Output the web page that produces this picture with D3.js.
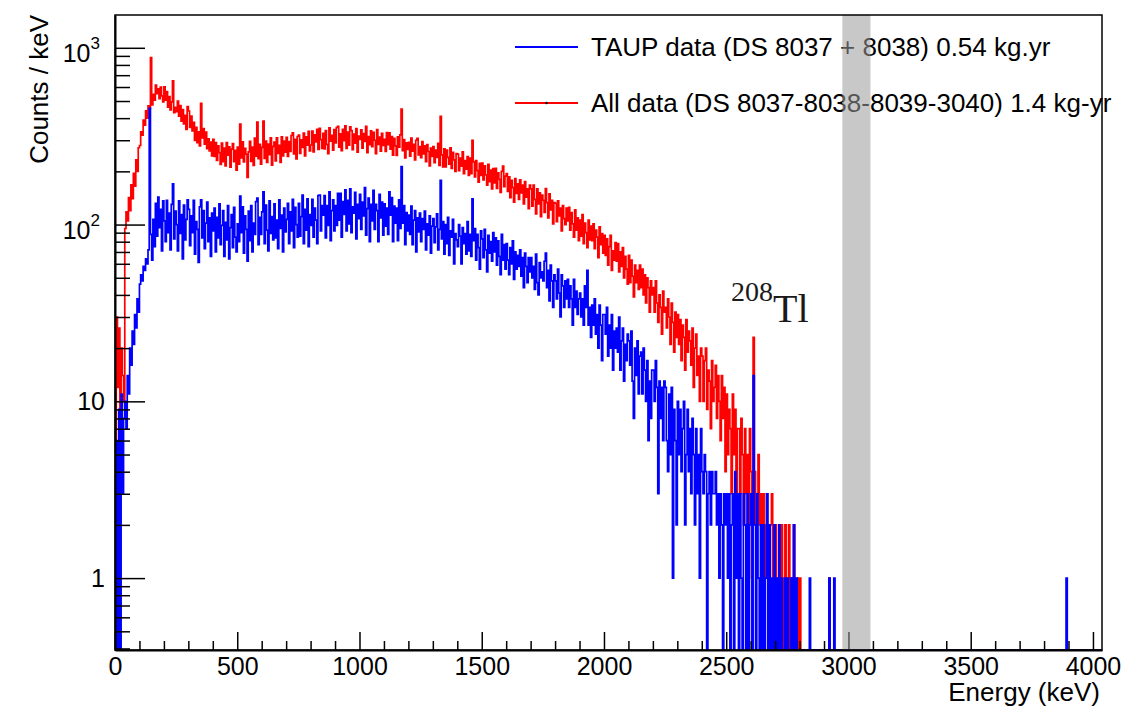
<!DOCTYPE html>
<html>
<head>
<meta charset="utf-8">
<script src="https://cdn.jsdelivr.net/npm/d3@7"></script>
<style>
body { margin: 0; background: #fff; }
text { font-family: "Liberation Sans", Arial, Helvetica, sans-serif; }
</style>
</head>
<body>
<svg id="drawing_region"></svg>
<script>
// counts / keV in 5 keV bins from 0 keV (one row = 50 keV)
const binWidth = 5;

const redCounts = [
    3, 30, 12, 26, 9, 20, 14, 10, 95, 118,
    105, 142, 120, 168, 140, 195, 165, 232, 200, 272,
    280, 335, 320, 390, 365, 440, 400, 470, 455, 880,
    475, 545, 505, 615, 551, 585, 515, 599, 535, 495,
    601, 505, 565, 461, 529, 445, 495, 650, 429, 461,
    435, 499, 411, 471, 385, 447, 371, 415, 345, 465,
    439, 355, 411, 339, 379, 299, 355, 291, 335, 279,
    485, 309, 349, 285, 333, 269, 305, 261, 293, 245,
    303, 243, 291, 231, 279, 255, 219, 289, 227, 271,
    215, 291, 247, 275, 211, 267, 287, 227, 263, 203,
    274, 220, 370, 238, 294, 226, 270, 250, 185, 258,
    296, 228, 274, 216, 308, 244, 380, 236, 284, 220,
    273, 385, 237, 297, 225, 285, 249, 309, 217, 277,
    293, 229, 309, 253, 281, 225, 313, 245, 297, 257,
    311, 243, 295, 259, 319, 330, 251, 303, 235, 315,
    321, 253, 301, 273, 329, 245, 313, 281, 337, 261,
    282, 338, 258, 322, 294, 346, 266, 350, 302, 270,
    328, 268, 340, 284, 252, 352, 296, 320, 264, 344,
    290, 354, 360, 274, 326, 262, 346, 298, 362, 270,
    333, 281, 357, 340, 265, 325, 289, 349, 257, 317,
    303, 343, 271, 327, 295, 359, 255, 315, 283, 339,
    276, 332, 300, 252, 344, 284, 312, 260, 328, 280,
    303, 259, 331, 283, 330, 267, 315, 247, 307, 279,
    246, 314, 274, 322, 450, 262, 302, 238, 290, 266,
    292, 244, 308, 260, 284, 232, 300, 307, 248, 276,
    239, 295, 251, 279, 227, 283, 259, 215, 271, 243,
    276, 224, 264, 240, 288, 216, 410, 248, 212, 268,
    212, 264, 240, 220, 272, 208, 256, 232, 200, 252,
    250, 202, 238, 214, 258, 194, 230, 206, 242, 190,
    238, 194, 300, 226, 186, 230, 202, 174, 222, 190,
    223, 179, 215, 191, 167, 219, 175, 203, 159, 207,
    172, 208, 160, 196, 180, 152, 200, 214, 164, 188,
    194, 154, 186, 142, 178, 162, 134, 182, 150, 170,
    139, 179, 151, 167, 131, 175, 143, 159, 123, 167,
    159, 127, 167, 139, 115, 159, 131, 151, 111, 147,
    137, 117, 160, 133, 109, 149, 121, 137, 101, 133,
    132, 104, 136, 112, 124, 92, 128, 108, 100, 124,
    105, 125, 93, 117, 101, 85, 121, 93, 109, 81,
    106, 86, 114, 78, 102, 90, 74, 106, 82, 98,
    81, 101, 73, 93, 85, 65, 97, 77, 89, 69,
    87, 67, 83, 59, 75, 87, 55, 71, 63, 79,
    62, 78, 54, 70, 58, 74, 50, 66, 56, 46,
    67, 47, 63, 51, 39, 59, 47, 55, 43, 59,
    44, 56, 40, 52, 36, 50, 44, 32, 48, 40,
    44, 32, 48, 36, 28, 40, 34, 24, 42, 32,
    34, 26, 38, 30, 21, 36, 28, 19, 32, 23,
    31, 21, 29, 17, 27, 23, 15, 29, 19, 25,
    22, 16, 26, 12, 20, 24, 14, 18, 10, 20,
    18, 10, 17, 20, 9, 15, 13, 7, 17, 10,
    12, 16, 8, 14, 10, 6, 14, 8, 12, 4,
    11, 5, 9, 7, 3, 11, 5, 9, 3, 7,
    7, 3, 8, 5, 2, 7, 3, 5, 1, 7,
    4, 3, 23, 4, 2, 3, 5, 2, 3, 1,
    3, 2, 1, 3, 2, 0, 2, 3, 1, 2,
    2, 0, 1, 2, 0, 2, 1, 0, 2, 0,
    1, 2, 0, 1, 0, 2, 0, 0, 1, 0,
    1, 0, 0, 0, 0, 0, 0, 0, 0, 0,
    0, 0, 0, 0, 0, 0, 0, 0, 0, 0,
    0, 0, 0, 0, 1, 0, 0, 0, 0, 0,
    0, 0, 0, 0, 0, 0, 0, 0, 0, 0
];

const blueCounts = [
    0, 6, 0, 9, 0, 11, 3, 8, 10, 7,
    14, 11, 20, 16, 25, 21, 31, 26, 38, 32,
    46, 52, 48, 58, 55, 64, 60, 72, 455, 88,
    63, 107, 75, 132, 86, 143, 96, 122, 71, 136,
    105, 80, 137, 90, 116, 72, 130, 170, 83, 119,
    100, 71, 136, 89, 114, 64, 129, 82, 107, 138,
    122, 76, 112, 90, 137, 68, 104, 94, 61, 126,
    138, 84, 120, 73, 102, 134, 80, 109, 66, 116,
    92, 124, 70, 110, 84, 131, 77, 99, 120, 66,
    103, 82, 128, 64, 96, 114, 74, 125, 85, 70,
    101, 80, 145, 90, 126, 69, 112, 94, 62, 119,
    81, 128, 70, 102, 88, 135, 141, 77, 110, 88,
    118, 153, 78, 129, 93, 71, 136, 89, 111, 82,
    131, 84, 106, 73, 138, 95, 113, 70, 124, 91,
    107, 132, 78, 118, 92, 139, 74, 125, 100, 85,
    132, 86, 111, 147, 78, 122, 93, 140, 75, 114,
    99, 139, 85, 124, 106, 78, 146, 147, 92, 128,
    113, 146, 84, 128, 99, 153, 81, 120, 138, 92,
    128, 99, 150, 106, 150, 85, 135, 114, 157, 92,
    137, 101, 159, 90, 126, 116, 152, 83, 130, 108,
    148, 94, 134, 112, 162, 87, 123, 141, 80, 130,
    105, 156, 94, 130, 120, 80, 148, 109, 134, 87,
    131, 98, 124, 88, 153, 113, 142, 80, 127, 102,
    124, 81, 138, 95, 213, 102, 128, 77, 117, 92,
    113, 88, 127, 77, 106, 120, 70, 109, 91, 116,
    80, 108, 94, 119, 72, 101, 87, 112, 69, 98,
    108, 79, 97, 115, 72, 94, 178, 83, 104, 68,
    100, 78, 110, 67, 92, 85, 107, 60, 89, 82,
    75, 100, 86, 60, 96, 78, 89, 68, 104, 71,
    88, 66, 140, 81, 95, 63, 88, 74, 56, 92,
    83, 65, 94, 72, 54, 87, 69, 80, 62, 90,
    70, 84, 59, 81, 66, 52, 88, 63, 77, 56,
    78, 63, 52, 74, 60, 81, 49, 70, 56, 67,
    58, 72, 51, 65, 44, 69, 58, 47, 65, 54,
    65, 50, 58, 43, 68, 47, 40, 61, 50, 54,
    48, 62, 69, 44, 55, 37, 59, 48, 34, 52,
    48, 38, 56, 41, 30, 52, 45, 34, 48, 38,
    49, 34, 45, 38, 27, 49, 34, 42, 31, 38,
    41, 30, 38, 27, 45, 34, 55, 27, 34, 23,
    35, 27, 38, 24, 31, 20, 35, 27, 17, 31,
    31, 24, 34, 18, 27, 20, 31, 15, 25, 20,
    26, 19, 30, 15, 22, 26, 13, 21, 17, 24,
    22, 16, 25, 13, 8, 20, 14, 22, 11, 18,
    19, 11, 20, 15, 10, 17, 6, 13, 8, 15,
    15, 10, 17, 12, 3, 13, 8, 12, 6, 13,
    12, 6, 4, 11, 5, 12, 1, 9, 6, 2,
    10, 5, 9, 4, 7, 10, 2, 5, 9, 4,
    7, 3, 8, 5, 2, 7, 3, 5, 1, 7,
    4, 3, 5, 4, 0, 3, 4, 2, 4, 3,
    3, 4, 2, 3, 1, 3, 2, 0, 3, 2,
    3, 1, 3, 0, 2, 3, 0, 4, 1, 3,
    0, 3, 1, 0, 3, 2, 0, 3, 0, 2,
    3, 0, 14, 2, 0, 3, 1, 0, 2, 0,
    2, 0, 1, 3, 0, 2, 0, 1, 0, 2,
    0, 1, 0, 2, 0, 1, 0, 0, 1, 0,
    1, 0, 0, 1, 0, 2, 0, 1, 0, 0,
    0, 0, 0, 0, 0, 0, 0, 0, 1, 0,
    0, 0, 0, 0, 0, 0, 0, 0, 0, 0,
    0, 0, 0, 0, 1, 0, 0, 0, 1, 0,
    0, 0, 0, 0, 0, 0, 0, 0, 0, 0
];

// single events above 3 MeV: [energy keV, counts/keV]
const blueSparse = [[3890, 1]];

const xMajorTicks = [0, 500, 1000, 1500, 2000, 2500, 3000, 3500, 4000];
const yMajorTicks = [1, 10, 100, 1000];
const yTickLabels = ['1', '10', '10^2', '10^3'];
const seriesNames = ['TAUP data (DS 8037 + 8038) 0.54 kg.yr', 'All data (DS 8037-8038-8039-3040) 1.4 kg-yr'];
const seriesColors = ['#0000ff', '#ff0000'];
const roiBand = [2975, 3090];
const peak = { energy: 2614, mass: '208', element: 'Tl' };

class Spectrum {
    constructor(config) {
        this.config = config;
        this.init();
    }

    init() {
        let self = this;
        const c = self.config;
        self.svg = d3.select(c.parent)
            .attr('width', c.width)
            .attr('height', c.height);

        self.inner_width = c.width - c.margin.left - c.margin.right;
        self.inner_height = c.height - c.margin.top - c.margin.bottom;

        self.chart = self.svg.append('g')
            .attr('transform', `translate(${c.margin.left}, ${c.margin.top})`);

        self.xscale = d3.scaleLinear().domain(c.xdomain).range([0, self.inner_width]);
        self.yscale = d3.scaleLog().domain(c.ydomain).range([self.inner_height, 0]);

        self.chart.append('clipPath').attr('id', 'frame-clip')
            .append('rect')
            .attr('width', self.inner_width)
            .attr('height', self.inner_height + 1);
    }

    histogram(counts, sparse) {
        let self = this;
        const nbins = Math.ceil(self.config.xdomain[1] / binWidth);
        const bins = d3.range(nbins).map(i => ({ e: i * binWidth, v: counts[i] || 0 }));
        (sparse || []).forEach(([e, v]) => { bins[Math.floor(e / binWidth)].v = v; });
        bins.push({ e: nbins * binWidth, v: bins[nbins - 1].v });
        return bins;
    }

    render() {
        let self = this;
        const ymin = self.config.ydomain[0];

        const line = d3.line()
            .x(d => self.xscale(d.e))
            .y(d => d.v > 0 ? self.yscale(d.v) : self.yscale(ymin))
            .curve(d3.curveStepAfter);

        const plot = self.chart.append('g').attr('clip-path', 'url(#frame-clip)');

        plot.append('path')
            .attr('d', line(self.histogram(redCounts)))
            .attr('fill', 'none')
            .attr('stroke', seriesColors[1])
            .attr('stroke-width', 1.7);

        plot.append('path')
            .attr('d', line(self.histogram(blueCounts, blueSparse)))
            .attr('fill', 'none')
            .attr('stroke', seriesColors[0])
            .attr('stroke-width', 1.7);

        // peak label
        const pl = self.chart.append('text')
            .attr('x', self.xscale(peak.energy) - 23)
            .attr('y', 286)
            .style('font-family', '"Liberation Serif", "Times New Roman", serif')
            .attr('fill', '#1a1a1a');
        pl.append('tspan').attr('font-size', 28).text(peak.mass);
        pl.append('tspan').attr('font-size', 40).attr('dy', 21).text(peak.element);

        self.legend();
        self.axes();

        // ROI band sits on top of everything inside the frame
        self.chart.append('rect')
            .attr('x', self.xscale(roiBand[0]))
            .attr('width', self.xscale(roiBand[1]) - self.xscale(roiBand[0]))
            .attr('y', 0)
            .attr('height', self.inner_height)
            .attr('fill', '#9a9a9a')
            .attr('opacity', 0.55);

        self.chart.append('rect')
            .attr('width', self.inner_width)
            .attr('height', self.inner_height)
            .attr('fill', 'none')
            .attr('stroke', 'black')
            .attr('stroke-width', 1.5);
    }

    legend() {
        let self = this;
        const lg = self.chart.append('g').attr('font-size', 26);
        const rows = [32, 88];
        seriesNames.forEach((name, i) => {
            lg.append('line')
                .attr('x1', 400).attr('x2', 463)
                .attr('y1', rows[i]).attr('y2', rows[i])
                .attr('stroke', seriesColors[i])
                .attr('stroke-width', 2);
            lg.append('text')
                .attr('x', 476)
                .attr('y', rows[i] + 9)
                .text(name);
        });
        lg.append('circle').attr('cx', 431.5).attr('cy', rows[1]).attr('r', 1.2).attr('fill', 'black');
    }

    axes() {
        let self = this;
        const h = self.inner_height;

        const xMinorTicks = d3.range(0, 4001, 100).filter(d => d % 500 !== 0);
        const xminor = self.chart.append('g')
            .attr('transform', `translate(0, ${h})`)
            .call(d3.axisBottom(self.xscale).tickValues(xMinorTicks).tickSize(-9).tickFormat(''));
        xminor.select('.domain').remove();

        const xaxis = self.chart.append('g')
            .attr('transform', `translate(0, ${h})`)
            .call(d3.axisBottom(self.xscale)
                .tickValues(xMajorTicks)
                .tickSizeInner(-18)
                .tickSizeOuter(0)
                .tickPadding(7)
                .tickFormat(d3.format('d')));
        xaxis.attr('font-size', 25).attr('font-family', null);
        xaxis.select('.domain').attr('stroke-width', 2);

        const yMinorTicks = [];
        [0.1, 1, 10, 100, 1000].forEach(dec => {
            d3.range(2, 10).forEach(k => {
                const v = k * dec;
                if (v >= self.config.ydomain[0] && v <= self.config.ydomain[1]) yMinorTicks.push(v);
            });
        });
        const yminor = self.chart.append('g')
            .call(d3.axisLeft(self.yscale).tickValues(yMinorTicks).tickSize(-15).tickFormat(''));
        yminor.select('.domain').remove();

        const yaxis = self.chart.append('g')
            .call(d3.axisLeft(self.yscale)
                .tickValues(yMajorTicks)
                .tickSizeInner(-30)
                .tickSizeOuter(0)
                .tickPadding(10)
                .tickFormat((d, i) => yTickLabels[i]));
        yaxis.attr('font-size', 25).attr('font-family', null);
        yaxis.select('.domain').attr('stroke-width', 2);

        yaxis.selectAll('.tick text').each(function() {
            const t = d3.select(this);
            const label = t.text();
            if (label.includes('^')) {
                const [base, exp] = label.split('^');
                t.text(null).attr('x', -15).attr('dy', '0.55em');
                t.append('tspan').text(base);
                t.append('tspan').attr('font-size', 17).attr('dy', '-0.75em').text(exp);
            }
        });

        self.chart.selectAll('.tick line').attr('stroke-width', 1.5);

        // axis titles
        self.chart.append('text')
            .attr('font-size', 26)
            .attr('text-anchor', 'end')
            .attr('x', self.inner_width - 2)
            .attr('y', h + 51)
            .text(self.config.xlabel);

        self.chart.append('text')
            .attr('font-size', 26)
            .attr('text-anchor', 'end')
            .attr('transform', `translate(-67, 0) rotate(-90)`)
            .text(self.config.ylabel);
    }
}

const config = {
    parent: '#drawing_region',
    width: 1145,
    height: 707,
    margin: { top: 15, right: 43, bottom: 57, left: 115 },
    xdomain: [0, 4037],
    ydomain: [0.392, 1533],
    xlabel: 'Energy (keV)',
    ylabel: 'Counts / keV'
};

const spectrum = new Spectrum(config);
spectrum.render();
</script>
</body>
</html>
